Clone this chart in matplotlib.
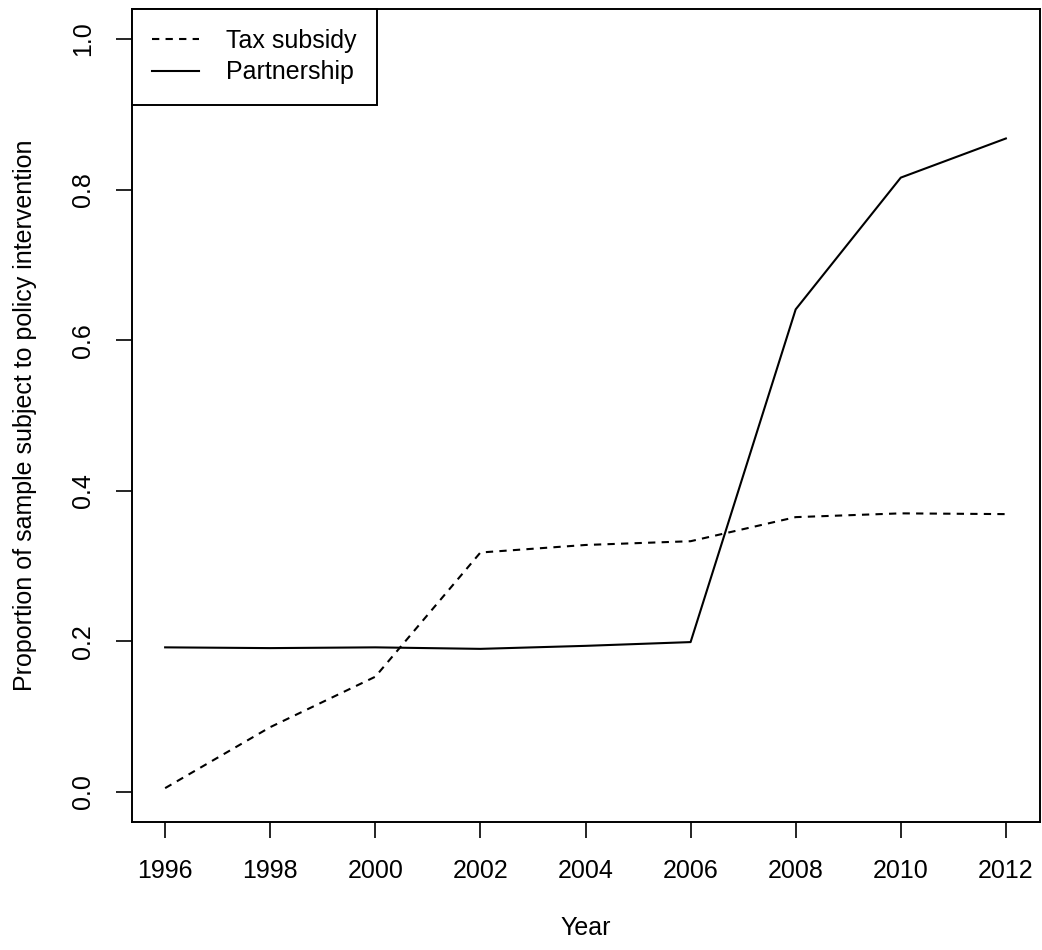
import matplotlib
matplotlib.use("Agg")
import matplotlib.pyplot as plt
import numpy as np

years = [1996, 1998, 2000, 2002, 2004, 2006, 2008, 2010, 2012]
tax_subsidy = [0.005, 0.086, 0.153, 0.318, 0.328, 0.333, 0.365, 0.370, 0.369]
partnership = [0.192, 0.191, 0.192, 0.190, 0.194, 0.199, 0.641, 0.816, 0.868]
y_ticks = [0.0, 0.2, 0.4, 0.6, 0.8, 1.0]

plt.rcParams['font.family'] = ['Liberation Sans', 'DejaVu Sans']
plt.rcParams['font.size'] = 18

fig = plt.figure(figsize=(10.42, 9.5), dpi=100)
ax = fig.add_axes([131.5 / 1042, (950 - 822) / 950, (1039.5 - 131.5) / 1042, (822 - 9) / 950])

ax.plot(years, tax_subsidy, color='black', lw=1.5, linestyle=(0, (3.5, 3)), label='Tax subsidy')
ax.plot(years, partnership, color='black', lw=1.5, label='Partnership')

# R-style 4% padding around the data range
ax.set_xlim(1996 - 0.64, 2012 + 0.64)
ax.set_ylim(-0.04, 1.04)
ax.set_xticks(years)
ax.set_yticks(y_ticks)
ax.set_yticklabels(['%.1f' % v for v in y_ticks], rotation=90, va='center')
ax.tick_params(direction='out', length=11.5, width=1.2, pad=15, labelsize=18)
for s in ax.spines.values():
    s.set_linewidth(1.4)

ax.set_xlabel('Year', fontsize=18, labelpad=24)
ax.set_ylabel('Proportion of sample subject to policy intervention', fontsize=18, labelpad=24)

leg = ax.legend(loc='upper left', borderaxespad=0, fancybox=False, edgecolor='black',
                framealpha=1, handlelength=1.9, handletextpad=1.1, borderpad=0.8,
                labelspacing=0.3, fontsize=18)
leg.get_frame().set_linewidth(1.4)

fig.savefig('out.png', dpi=100)
